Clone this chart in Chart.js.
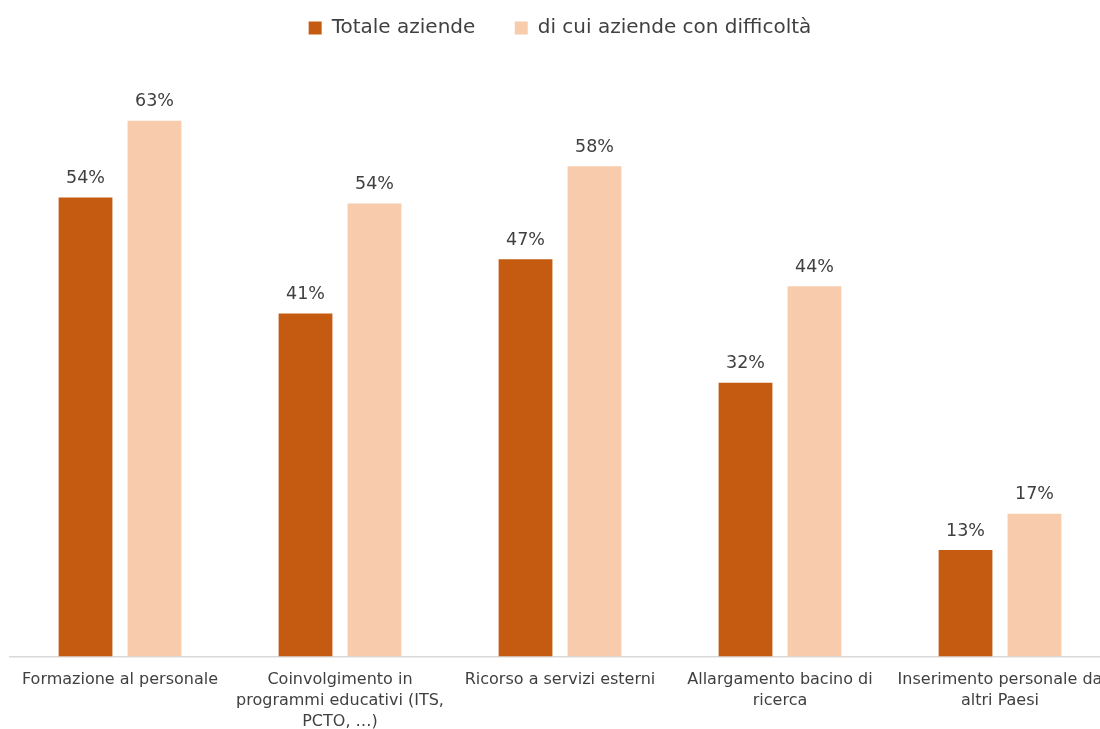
<!DOCTYPE html>
<html>
<head>
<meta charset="utf-8">
<script src="https://cdn.jsdelivr.net/npm/chart.js@4"></script>
<style>
  html, body { margin: 0; padding: 0; background: #ffffff; overflow: hidden; }
  #wrap { position: relative; width: 1120px; height: 737px; }
</style>
</head>
<body>
<div id="wrap"><canvas id="chart"></canvas></div>
<script>
// categories and values
var categories = [
  ["Formazione al personale"],
  ["Coinvolgimento in", "programmi educativi (ITS,", "PCTO, …)"],
  ["Ricorso a servizi esterni"],
  ["Allargamento bacino di", "ricerca"],
  ["Inserimento personale da", "altri Paesi"]
];
var totaleAziende = [54.3, 40.6, 47.0, 32.4, 12.6];
var aziendeDifficolta = [63.4, 53.6, 58.0, 43.8, 16.9];
var seriesNames = ["Totale aziende", "di cui aziende con difficoltà"];

var FONT = "'DejaVu Sans', sans-serif";
var TEXT = "#404040";

// draws the % value above every bar
var barValues = {
  id: "barValues",
  afterDatasetsDraw: function (chart) {
    var ctx = chart.ctx;
    ctx.save();
    ctx.font = "17.5px " + FONT;
    ctx.fillStyle = TEXT;
    ctx.textAlign = "center";
    ctx.textBaseline = "middle";
    chart.data.datasets.forEach(function (ds, i) {
      chart.getDatasetMeta(i).data.forEach(function (bar, j) {
        ctx.fillText(Math.round(ds.data[j]) + "%", bar.x, bar.y - 19);
      });
    });
    ctx.restore();
  }
};

new Chart(document.getElementById("chart"), {
  type: "bar",
  data: {
    labels: categories,
    datasets: [
      {
        label: seriesNames[0],
        data: totaleAziende,
        backgroundColor: "#C55A11",
        categoryPercentage: 0.627,
        barPercentage: 0.78
      },
      {
        label: seriesNames[1],
        data: aziendeDifficolta,
        backgroundColor: "#F8CBAD",
        categoryPercentage: 0.627,
        barPercentage: 0.78
      }
    ]
  },
  options: {
    responsive: true,
    maintainAspectRatio: false,
    animation: false,
    layout: { padding: { left: 10, right: 10, top: 4, bottom: 0 } },
    scales: {
      x: {
        grid: { display: false },
        border: { color: "#d9d9d9", width: 1.5 },
        ticks: {
          color: TEXT,
          font: { family: FONT, size: 16, lineHeight: 1.3 },
          maxRotation: 0,
          autoSkip: false,
          padding: 5
        }
      },
      y: {
        display: false,
        min: 0,
        max: 72
      }
    },
    plugins: {
      legend: {
        position: "top",
        labels: {
          color: TEXT,
          font: { family: FONT, size: 20 },
          boxWidth: 13,
          boxHeight: 13,
          padding: 14,
          generateLabels: function (chart) {
            var items = Chart.defaults.plugins.legend.labels.generateLabels(chart);
            // wider gap between the two legend entries
            items[0].text = items[0].text + "\u00a0\u00a0\u00a0\u00a0";
            return items;
          }
        }
      },
      tooltip: { enabled: false }
    }
  },
  plugins: [barValues]
});
</script>
</body>
</html>
